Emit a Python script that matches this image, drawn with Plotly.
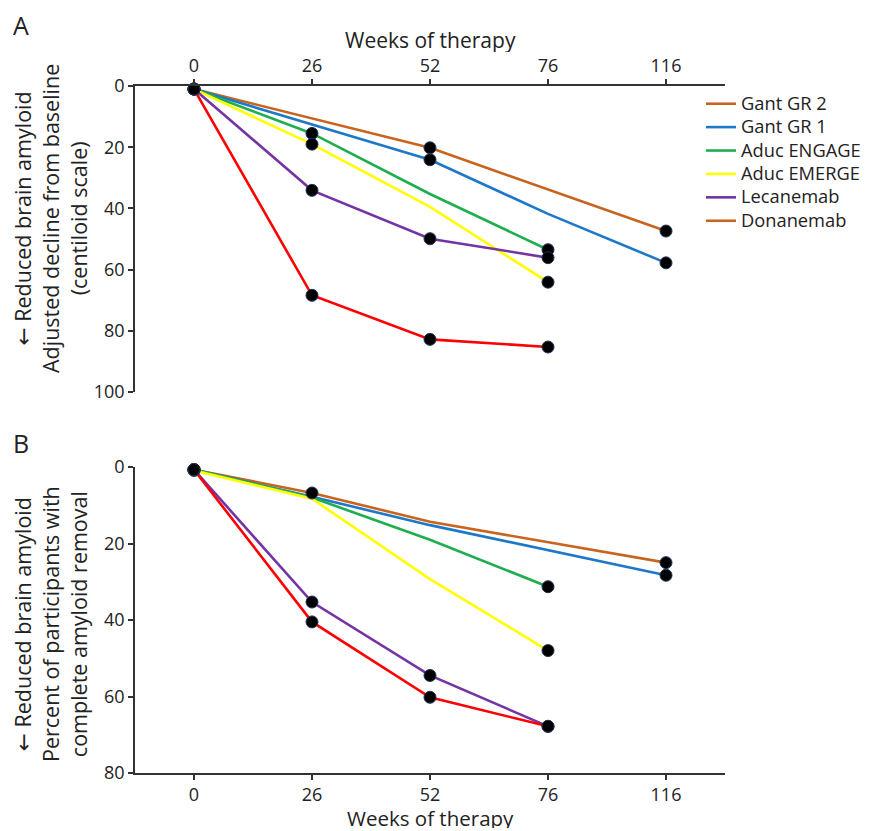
import plotly.graph_objects as go

# ---------------- data ----------------
week_labels = ["0", "26", "52", "76", "116"]
series_names = ["Gant GR 2", "Gant GR 1", "Aduc ENGAGE", "Aduc EMERGE", "Lecanemab", "Donanemab"]

# Panel A: adjusted decline from baseline (centiloid)
gant2_A_weeks = ["0", "52", "116"]
gant2_A_vals = [1.0, 20.2, 47.4]
gant2_A_meas = [True, True, True]

gant1_A_weeks = ["0", "52", "76", "116"]
gant1_A_vals = [1.0, 24.1, 41.8, 57.8]
gant1_A_meas = [True, True, False, True]

engage_A_weeks = ["0", "26", "52", "76"]
engage_A_vals = [1.0, 15.5, 35.3, 53.5]
engage_A_meas = [True, True, False, True]

emerge_A_weeks = ["0", "26", "52", "76"]
emerge_A_vals = [1.0, 19.0, 39.5, 64.1]
emerge_A_meas = [True, True, False, True]

lecan_A_weeks = ["0", "26", "52", "76"]
lecan_A_vals = [1.0, 34.1, 49.9, 56.1]
lecan_A_meas = [True, True, True, True]

donan_A_weeks = ["0", "26", "52", "76"]
donan_A_vals = [1.0, 68.4, 82.8, 85.3]
donan_A_meas = [True, True, True, True]

# Panel B: percent of participants with complete amyloid removal
gant2_B_weeks = ["0", "26", "52", "116"]
gant2_B_vals = [0.7, 6.8, 14.3, 25.0]
gant2_B_meas = [True, True, False, True]

gant1_B_weeks = ["0", "26", "52", "116"]
gant1_B_vals = [0.7, 7.8, 15.2, 28.3]
gant1_B_meas = [True, False, False, True]

engage_B_weeks = ["0", "26", "52", "76"]
engage_B_vals = [0.7, 8.0, 19.0, 31.3]
engage_B_meas = [True, False, False, True]

emerge_B_weeks = ["0", "26", "52", "76"]
emerge_B_vals = [0.9, 8.3, 29.3, 48.0]
emerge_B_meas = [True, False, False, True]

lecan_B_weeks = ["0", "26", "52", "76"]
lecan_B_vals = [0.7, 35.3, 54.5, 67.8]
lecan_B_meas = [True, True, True, True]

donan_B_weeks = ["0", "26", "52", "76"]
donan_B_vals = [0.7, 40.5, 60.2, 67.8]
donan_B_meas = [True, True, True, True]

# ---------------- styles ----------------
BROWN = "#c8641e"
BLUE = "#1e78c8"
GREEN = "#1fae4f"
YELLOW = "#ffff00"
PURPLE = "#7434a4"
RED = "#ff0000"
FONT = "Open Sans"
TXT = "#222222"
AX = "#333333"

legend_colors = [BROWN, BLUE, GREEN, YELLOW, PURPLE, BROWN]

panelA = [
    (gant2_A_weeks, gant2_A_vals, gant2_A_meas, BROWN),
    (gant1_A_weeks, gant1_A_vals, gant1_A_meas, BLUE),
    (engage_A_weeks, engage_A_vals, engage_A_meas, GREEN),
    (emerge_A_weeks, emerge_A_vals, emerge_A_meas, YELLOW),
    (lecan_A_weeks, lecan_A_vals, lecan_A_meas, PURPLE),
    (donan_A_weeks, donan_A_vals, donan_A_meas, RED),
]
panelB = [
    (gant2_B_weeks, gant2_B_vals, gant2_B_meas, BROWN),
    (gant1_B_weeks, gant1_B_vals, gant1_B_meas, BLUE),
    (engage_B_weeks, engage_B_vals, engage_B_meas, GREEN),
    (emerge_B_weeks, emerge_B_vals, emerge_B_meas, YELLOW),
    (lecan_B_weeks, lecan_B_vals, lecan_B_meas, PURPLE),
    (donan_B_weeks, donan_B_vals, donan_B_meas, RED),
]

fig = go.Figure()


def add_panel(series, xa, ya):
    for weeks, vals, meas, col in series:
        fig.add_trace(go.Scatter(
            x=weeks, y=vals, mode="lines", xaxis=xa, yaxis=ya,
            line=dict(color=col, width=2.6), showlegend=False,
            cliponaxis=False, hoverinfo="skip"))
    for weeks, vals, meas, col in series:
        mx = [w for w, m in zip(weeks, meas) if m]
        my = [v for v, m in zip(vals, meas) if m]
        fig.add_trace(go.Scatter(
            x=mx, y=my, mode="markers", xaxis=xa, yaxis=ya,
            marker=dict(color="black", size=12,
                        line=dict(color="#1d3557", width=1)),
            showlegend=False, cliponaxis=False))


add_panel(panelA, "x", "y")
add_panel(panelB, "x2", "y2")

for name, col in zip(series_names, legend_colors):
    fig.add_trace(go.Scatter(x=[None], y=[None], mode="lines",
                             name='<span style="font-size:18.3px">' + name + '</span>',
                             line=dict(color=col, width=2.6),
                             xaxis="x", yaxis="y"))

# page offset (body margin) 8px
OFF = 8
W, H = 869 - OFF, 831 - OFF
L, T = 135 - OFF, 86 - OFF
R = W - (725 - OFF)
B = H - (773 - OFF)
ph = H - T - B
pw = W - L - R


def py(sy):
    return 1 - (sy - OFF - T) / ph


def pxx(sx):
    return (sx - OFF - L) / pw


axis_common = dict(
    type="category", categoryorder="array", categoryarray=week_labels,
    range=[-0.5, 4.5], showline=True, linecolor=AX, linewidth=1.5,
    ticks="outside", ticklen=5, tickwidth=1.5, tickcolor=AX,
    showgrid=False, zeroline=False,
    tickfont=dict(family=FONT, size=18, color=TXT),
)
yaxis_common = dict(
    showline=True, linecolor=AX, linewidth=1.5,
    ticks="outside", ticklen=5, tickwidth=1.5, tickcolor=AX,
    showgrid=False, zeroline=False,
    tickfont=dict(family=FONT, size=18, color=TXT),
)

fig.update_layout(
    width=W, height=H, autosize=False,
    margin=dict(l=L, r=R, t=T, b=B, autoexpand=False),
    plot_bgcolor="white", paper_bgcolor="white",
    font=dict(family=FONT, color=TXT),
    xaxis=dict(axis_common, side="top", anchor="y"),
    yaxis=dict(yaxis_common, domain=[py(392), 1], range=[100, 0],
               tickvals=[0, 20, 40, 60, 80, 100], anchor="x"),
    xaxis2=dict(axis_common, side="bottom", anchor="y2"),
    yaxis2=dict(yaxis_common, domain=[0, py(467)], range=[80, 0],
                tickvals=[0, 20, 40, 60, 80], anchor="x2"),
    legend=dict(x=pxx(701), y=py(87), xanchor="left", yanchor="top",
                font=dict(family=FONT, size=15.7, color=TXT),
                bgcolor="rgba(0,0,0,0)", tracegroupgap=0),
    showlegend=True,
)

ARROW = '<span style="font-family:DejaVu Sans">\u2190</span>'
ann = [
    dict(text="A", x=pxx(21), y=py(25), size=25, h=24),
    dict(text="B", x=pxx(21), y=py(443), size=25, h=24),
    dict(text="Weeks of therapy", x=pxx(430), y=py(40), size=21, h=24),
    dict(text="Weeks of therapy", x=pxx(430), y=py(818), size=20.5, h=20),
    dict(text=ARROW + " Reduced brain amyloid<br>Adjusted decline from baseline<br>(centiloid scale)",
         x=pxx(50), y=py(219), angle=-90, size=21.5, h=None),
    dict(text=ARROW + " Reduced brain amyloid<br>Percent of participants with<br>complete amyloid removal",
         x=pxx(50), y=py(624), angle=-90, size=21.5, h=None),
]
for a in ann:
    kw = {}
    if a["h"]:
        kw["height"] = a["h"]
        kw["valign"] = "middle"
    fig.add_annotation(xref="paper", yref="paper", showarrow=False,
                       xanchor="center", yanchor="middle",
                       font=dict(family=FONT, color=TXT, size=a["size"]),
                       text=a["text"], x=a["x"], y=a["y"],
                       textangle=a.get("angle", 0), **kw)

fig.write_html("out.html")
